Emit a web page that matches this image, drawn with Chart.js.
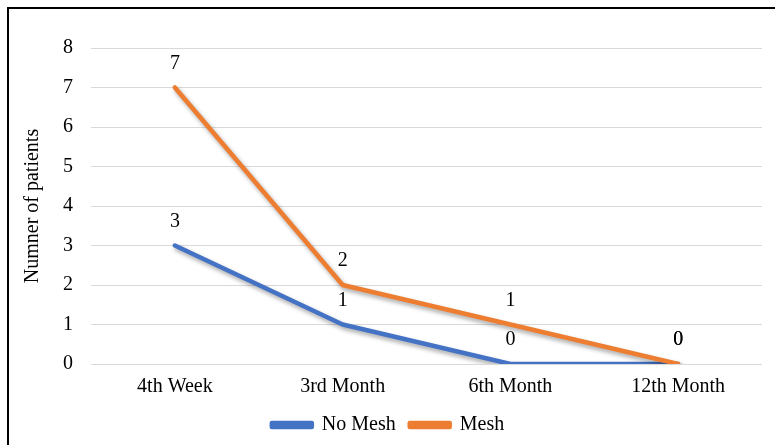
<!DOCTYPE html>
<html>
<head>
<meta charset="utf-8">
<script src="https://cdn.jsdelivr.net/npm/chart.js@4/dist/chart.umd.min.js"></script>
<style>
html,body{margin:0;padding:0;background:#fff;overflow:hidden;}
#frame{position:absolute;left:7px;top:7px;width:900px;height:900px;border:2px solid #000;box-sizing:border-box;}
#wrap{position:absolute;left:0;top:0;width:775px;height:445px;}
</style>
</head>
<body>
<div id="frame"></div>
<div id="wrap"><canvas id="c" width="775" height="445"></canvas></div>
<script>
const categories = ["4th Week", "3rd Month", "6th Month", "12th Month"];
const noMesh = [3, 1, 0, 0];
const mesh = [7, 2, 1, 0];
const yTicks = [0, 1, 2, 3, 4, 5, 6, 7, 8];

const FONT = "'Liberation Serif', 'Times New Roman', serif";

const shadowPlugin = {
  id: 'shadow',
  beforeDatasetDraw(chart) {
    const ctx = chart.ctx;
    ctx.save();
    ctx.shadowColor = 'rgba(0,0,0,0.35)';
    ctx.shadowBlur = 4;
    ctx.shadowOffsetX = 2;
    ctx.shadowOffsetY = 3;
  },
  afterDatasetDraw(chart) {
    chart.ctx.restore();
  }
};

const labelPlugin = {
  id: 'labels',
  afterDatasetsDraw(chart) {
    const ctx = chart.ctx;
    ctx.save();
    ctx.font = '20px ' + FONT;
    ctx.fillStyle = '#000';
    ctx.textAlign = 'center';
    ctx.textBaseline = 'middle';
    chart.data.datasets.forEach((ds, i) => {
      const meta = chart.getDatasetMeta(i);
      meta.data.forEach((pt, j) => {
        ctx.fillText(String(ds.data[j]), pt.x, pt.y - 24);
      });
    });
    ctx.restore();
  }
};

new Chart(document.getElementById('c'), {
  type: 'line',
  data: {
    labels: categories,
    datasets: [
      { label: 'No Mesh', data: noMesh, borderColor: '#4472C4', backgroundColor: '#4472C4', borderWidth: 4.5, pointRadius: 0, borderCapStyle: 'round', borderJoinStyle: 'round', order: 1 },
      { label: 'Mesh', data: mesh, borderColor: '#ED7D31', backgroundColor: '#ED7D31', borderWidth: 4.5, pointRadius: 0, borderCapStyle: 'round', borderJoinStyle: 'round', order: 0 }
    ]
  },
  options: {
    responsive: false,
    animation: false,
    layout: { padding: { left: 14, top: 48, right: 13, bottom: 0 } },
    plugins: {
      legend: {
        position: 'bottom',
        labels: {
          font: { family: FONT, size: 20 }, color: '#000', boxWidth: 40, boxHeight: 4, padding: 14,
          sort: (a, b) => a.datasetIndex - b.datasetIndex
        }
      },
      tooltip: { enabled: false }
    },
    scales: {
      x: {
        offset: true,
        grid: { display: false },
        border: { display: false },
        ticks: { font: { family: FONT, size: 20 }, color: '#000', padding: 3 },
        afterFit(s) { s.height = 37; }
      },
      y: {
        min: 0, max: 8,
        afterBuildTicks(s) { s.ticks = yTicks.map(v => ({ value: v })); },
        grid: { color: '#d9d9d9', drawTicks: false, lineWidth: 1 },
        border: { display: false },
        ticks: { font: { family: FONT, size: 20 }, color: '#000', padding: 18 },
        title: { display: true, text: 'Numner of patients', font: { family: FONT, size: 20 }, color: '#000', padding: { top: 7, bottom: 0 } },
        afterFit(s) { s.width = 77; }
      }
    }
  },
  plugins: [shadowPlugin, labelPlugin]
});
</script>
</body>
</html>
